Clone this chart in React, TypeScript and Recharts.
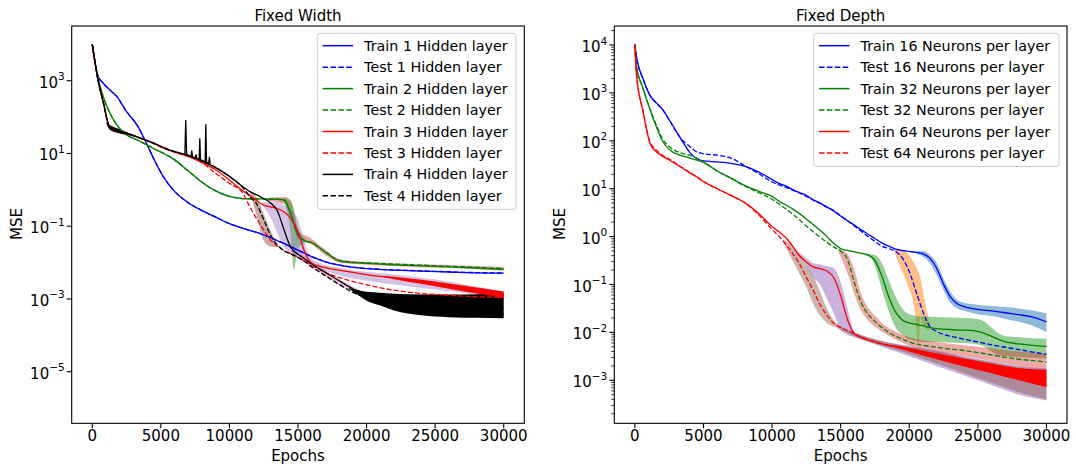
import React from "react"
import { ComposedChart, Line, Area, XAxis, YAxis } from "recharts"

const FONT = '"DejaVu Sans", Verdana, sans-serif'
const epochTicks = [0, 5000, 10000, 15000, 20000, 25000, 30000]

// ---------- Fixed Width (left panel) ----------
const widthEpochs = [0, 400, 800, 1300, 1800, 2500, 3300, 4000, 4500, 5200, 5900, 6900, 8000, 9000, 10000, 11000, 11500, 12000, 12500, 13000, 13500, 14000, 14500, 15000, 15500, 16000, 17000, 18000, 19000, 20000, 22000, 24000, 26000, 28000, 30000]
const train1 = [1.0e4, 1410, 851, 550, 363, 141, 57.5, 17.4, 6.9, 2.24, 1.0, 0.468, 0.269, 0.178, 0.117, 0.0871, 0.0759, 0.0676, 0.0575, 0.049, 0.0398, 0.0331, 0.0269, 0.0219, 0.0178, 0.0145, 0.0105, 0.0085, 0.0074, 0.0068, 0.0062, 0.0058, 0.0055, 0.0052, 0.0051]
const test1 = [1.0e4, 1410, 851, 550, 363, 141, 57.5, 17.4, 6.9, 2.24, 1.0, 0.468, 0.269, 0.178, 0.117, 0.0871, 0.0759, 0.0676, 0.0575, 0.049, 0.0398, 0.0331, 0.0269, 0.0219, 0.0178, 0.0145, 0.0105, 0.0086, 0.0075, 0.0069, 0.0063, 0.0059, 0.0056, 0.0053, 0.0052]
const train2 = [1.0e4, 1320, 363, 126, 60.3, 32.4, 23.4, 17.0, 13.5, 10.0, 7.08, 3.55, 1.62, 0.933, 0.661, 0.575, 0.562, 0.562, 0.562, 0.55, 0.55, 0.525, 0.209, 0.0562, 0.0398, 0.0355, 0.0191, 0.0112, 0.01, 0.00955, 0.00871, 0.00813, 0.00759, 0.00708, 0.00646]
const test2 = [1.0e4, 1320, 363, 126, 60.3, 32.4, 23.4, 17.0, 13.5, 10.0, 7.08, 3.55, 1.62, 0.933, 0.661, 0.575, 0.562, 0.562, 0.562, 0.55, 0.55, 0.51, 0.2, 0.0562, 0.0398, 0.0355, 0.0195, 0.0115, 0.0103, 0.0098, 0.0091, 0.0085, 0.0079, 0.0074, 0.0068]
const train3 = [1.0e4, 1120, 257, 49, 41.7, 35.5, 28.2, 22.4, 18.6, 14.1, 11.2, 8.51, 5.62, 3.55, 1.86, 0.933, 0.692, 0.501, 0.38, 0.339, 0.302, 0.245, 0.158, 0.0708, 0.0191, 0.00955, 0.00724, 0.00617, 0.00537, 0.00468, 0.0038, 0.00302, 0.00234, 0.00174, 0.00129]
const test3 = [1.0e4, 1120, 257, 49, 41.7, 35.5, 28.2, 22.4, 18.6, 14.1, 11.2, 8.51, 5.62, 2.82, 1.51, 0.794, 0.331, 0.158, 0.0776, 0.0417, 0.0282, 0.0214, 0.0174, 0.0138, 0.0112, 0.0085, 0.00525, 0.00389, 0.00302, 0.00245, 0.00174, 0.00141, 0.00126, 0.00115, 0.0011]
const train4 = [1.0e4, 1120, 257, 49, 41.7, 35.5, 28.2, 22.4, 19.1, 14.5, 11.5, 9.12, 6.17, 4.07, 2.34, 1.2, 0.891, 0.724, 0.575, 0.437, 0.263, 0.0759, 0.0251, 0.017, 0.0126, 0.00912, 0.00537, 0.00316, 0.00191, 0.00132, 0.00089, 0.000708, 0.000631, 0.000603, 0.000562]
const test4 = [1.0e4, 1120, 257, 49, 41.7, 35.5, 28.2, 22.4, 19.1, 14.5, 11.5, 9.12, 6.17, 4.07, 2.34, 1.12, 0.646, 0.398, 0.151, 0.0562, 0.0302, 0.0209, 0.017, 0.0138, 0.0105, 0.00759, 0.00437, 0.00251, 0.00151, 0.00107, 0.000708, 0.000501, 0.000437, 0.000398, 0.00038]

// spikes of the 4-layer training curve
const spikeEpochs = [6750, 6815, 6880, 7200, 7255, 7310, 7520, 7570, 7620, 7790, 7840, 7890, 8230, 8277, 8330, 8490, 8540, 8590]
const spikeValues = [9.2, 83, 9.1, 8.1, 12, 8.0, 7.5, 9.5, 7.3, 6.9, 26, 6.8, 5.9, 63, 5.8, 5.3, 8.1, 5.2]

// shaded spread bands, left panel
const bandTest3Epochs = [11500, 12000, 12500, 13000, 13450]
const bandTest3Lo = [0.832, 0.186, 0.0398, 0.0275, 0.0263]
const bandTest3Hi = [0.891, 0.617, 0.219, 0.0759, 0.0302]
const bandTrain3Epochs = [12400, 12970, 13940, 14915, 15650, 16200, 18000, 20000, 22000, 24000, 26000, 28000, 30000]
const bandTrain3Lo = [0.38, 0.182, 0.0275, 0.0145, 0.00955, 0.00794, 0.00447, 0.00316, 0.00251, 0.002, 0.00166, 0.00132, 0.00105]
const bandTrain3Hi = [0.44, 0.468, 0.38, 0.182, 0.0224, 0.0112, 0.00708, 0.00562, 0.00468, 0.0038, 0.00302, 0.00219, 0.00158]
const bandTrain2Epochs = [14000, 14400, 14700, 15000, 15500]
const bandTrain2Lo = [0.479, 0.1, 0.0063, 0.0251, 0.0331]
const bandTrain2Hi = [0.603, 0.501, 0.282, 0.0891, 0.0468]
const bandTest2Epochs = [12800, 14000, 14500, 15000, 16000, 17000, 18000, 20000, 22000, 26000, 30000]
const bandTest2Lo = [0.501, 0.398, 0.158, 0.0447, 0.0316, 0.0158, 0.01, 0.00871, 0.00794, 0.00708, 0.00603]
const bandTest2Hi = [0.603, 0.631, 0.501, 0.0794, 0.0447, 0.0224, 0.0126, 0.0105, 0.00955, 0.00851, 0.00759]
const bandTrain4Epochs = [14500, 15500, 16500, 17500, 18500, 19500]
const bandTrain4Lo = [0.02, 0.01, 0.00562, 0.00316, 0.00191, 0.00132]
const bandTrain4Hi = [0.0316, 0.0151, 0.00832, 0.00479, 0.00282, 0.00178]

// noisy stretches, left panel
const noiseEarlyEpochs = [1000, 1300, 1800, 2500, 3100]
const noiseEarlyLo = [70, 44, 37, 32, 29]
const noiseEarlyHi = [72, 60, 49, 39, 31]
const noiseBlackEpochs = [18700, 19500, 20000, 21000, 22000, 24000, 26000, 28000, 30000]
const noiseBlackLo = [1.9e-3, 1.2e-3, 8.9e-4, 6.6e-4, 4.8e-4, 3.55e-4, 3.16e-4, 3.02e-4, 2.95e-4]
const noiseBlackHi = [2.0e-3, 1.7e-3, 1.58e-3, 1.48e-3, 1.38e-3, 1.32e-3, 1.32e-3, 1.35e-3, 1.45e-3]
const noiseRedEpochs = [21000, 22000, 24000, 26000, 28000, 30000]
const noiseRedLo = [4.2e-3, 3.5e-3, 2.6e-3, 1.9e-3, 1.4e-3, 1.05e-3]
const noiseRedHi = [4.3e-3, 4.1e-3, 3.35e-3, 2.65e-3, 2.05e-3, 1.6e-3]

// ---------- Fixed Depth (right panel) ----------
const depthEpochs = [0, 100, 600, 1100, 1600, 2000, 2500, 3300, 4000, 4500, 5000, 6000, 7000, 8000, 9000, 10000, 10500, 11000, 11500, 12000, 12500, 13000, 13500, 14000, 14500, 15000, 15500, 16000, 16500, 17000, 17500, 18000, 18500, 19000, 19500, 20000, 20500, 21000, 21500, 22000, 22500, 23000, 23500, 24000, 25000, 26000, 27000, 28000, 29000, 30000]
const train16 = [1.02e4, 6170, 1950, 891, 603, 457, 275, 117, 57.5, 42.7, 38, 36.3, 33.9, 29.5, 22.4, 15.5, 12.9, 11.5, 9.55, 8.32, 7.24, 5.89, 5.01, 4.17, 3.39, 2.69, 2.14, 1.74, 1.38, 1.12, 0.912, 0.741, 0.631, 0.55, 0.513, 0.49, 0.468, 0.437, 0.355, 0.219, 0.102, 0.055, 0.0398, 0.0347, 0.0302, 0.0282, 0.0257, 0.0234, 0.0209, 0.0166]
const test16 = [1.02e4, 6170, 1950, 891, 603, 457, 275, 117, 75.9, 58.9, 53.7, 50.1, 43.7, 30.2, 20.9, 13.8, 12.0, 10.7, 9.33, 8.13, 6.92, 5.75, 4.9, 4.07, 3.55, 2.69, 2.14, 1.66, 1.29, 1.0, 0.794, 0.631, 0.562, 0.49, 0.355, 0.186, 0.0708, 0.0269, 0.0132, 0.0105, 0.00912, 0.00832, 0.00776, 0.00724, 0.00631, 0.0055, 0.0049, 0.00437, 0.00389, 0.00347]
const train32 = [1.02e4, 3800, 1230, 457, 186, 100, 66.1, 50.1, 43.7, 39.8, 35.5, 23.4, 16.6, 11.7, 8.91, 6.92, 5.5, 4.57, 3.8, 3.02, 2.34, 1.78, 1.35, 1.0, 0.724, 0.562, 0.513, 0.479, 0.447, 0.417, 0.316, 0.151, 0.0562, 0.0269, 0.0182, 0.0158, 0.0148, 0.0138, 0.0126, 0.012, 0.0117, 0.0115, 0.0112, 0.0112, 0.0105, 0.0083, 0.00631, 0.00575, 0.00537, 0.00513]
const test32 = [1.02e4, 3800, 1230, 457, 200, 112, 75.9, 56.2, 50.1, 43.7, 36.3, 23.4, 16.6, 11.5, 8.32, 6.03, 4.79, 3.8, 2.95, 2.24, 1.66, 1.26, 0.977, 0.759, 0.603, 0.501, 0.331, 0.11, 0.0417, 0.024, 0.017, 0.0126, 0.01, 0.00832, 0.00724, 0.00631, 0.00575, 0.00537, 0.00513, 0.0049, 0.00468, 0.00447, 0.00437, 0.00417, 0.0038, 0.00339, 0.00302, 0.00275, 0.00257, 0.0024]
const train64 = [1.02e4, 2750, 398, 89.1, 57.5, 47.9, 39.8, 28.8, 21.4, 17.8, 14.1, 10, 7.24, 5.13, 3.09, 1.62, 1.26, 0.955, 0.631, 0.398, 0.295, 0.234, 0.214, 0.191, 0.138, 0.0589, 0.0186, 0.00933, 0.00776, 0.00692, 0.00631, 0.00575, 0.00537, 0.00501, 0.00479, 0.00447, 0.00417, 0.00389, 0.00355, 0.00324, 0.00302, 0.00282, 0.00263, 0.00245, 0.00219, 0.00191, 0.00166, 0.00148, 0.00132, 0.00117]
const test64 = [1.02e4, 2750, 417, 95.5, 63.1, 50.1, 41.7, 29.5, 21.9, 17.8, 14.1, 10, 7.24, 5.13, 2.88, 1.41, 1.02, 0.692, 0.447, 0.269, 0.141, 0.0759, 0.038, 0.0229, 0.0155, 0.0126, 0.011, 0.00933, 0.00794, 0.00708, 0.00631, 0.00575, 0.00537, 0.00501, 0.00479, 0.00447, 0.00417, 0.00389, 0.00355, 0.00324, 0.00302, 0.00282, 0.00263, 0.00245, 0.00219, 0.00191, 0.00166, 0.00148, 0.00132, 0.00117]

// shaded spread bands, right panel
const bandTrain16Epochs = [20500, 21000, 21500, 22000, 22500, 23000, 23500, 24000, 25000, 26000, 27000, 28000, 29000, 30000]
const bandTrain16Lo = [0.437, 0.38, 0.282, 0.158, 0.0759, 0.0417, 0.0316, 0.0282, 0.024, 0.0219, 0.0191, 0.0166, 0.0138, 0.0102]
const bandTrain16Hi = [0.49, 0.501, 0.417, 0.282, 0.132, 0.0708, 0.0479, 0.0417, 0.038, 0.0355, 0.0339, 0.0316, 0.0288, 0.0251]
const bandTest16Epochs = [18900, 19335, 19800, 20430, 20680, 20800, 21100, 21530]
const bandTest16Lo = [0.501, 0.234, 0.112, 0.0251, 0.00537, 0.02, 0.0126, 0.0112]
const bandTest16Hi = [0.525, 0.513, 0.468, 0.251, 0.178, 0.145, 0.0501, 0.0141]
const bandTrain32Epochs = [16800, 17200, 17600, 18000, 18500, 19000, 19500, 20000, 21000, 22000, 23000, 24000, 25000, 25500, 26000, 26500, 27000, 28000, 29000, 30000]
const bandTrain32Lo = [0.398, 0.355, 0.2, 0.0794, 0.0282, 0.0126, 0.00891, 0.00708, 0.00631, 0.00631, 0.00617, 0.00603, 0.00562, 0.00501, 0.00398, 0.00339, 0.00316, 0.00302, 0.00295, 0.00282]
const bandTrain32Hi = [0.437, 0.427, 0.398, 0.282, 0.126, 0.0562, 0.0316, 0.024, 0.0214, 0.0209, 0.0204, 0.02, 0.0191, 0.0166, 0.0126, 0.00955, 0.00832, 0.00794, 0.00759, 0.00741]
const bandTest32Epochs = [14800, 15200, 15600, 16000, 16500, 17000, 17500, 18000, 19000, 20000, 22000, 24000, 26000, 28000, 30000]
const bandTest32Lo = [0.501, 0.282, 0.141, 0.0631, 0.0282, 0.0178, 0.0132, 0.0105, 0.00708, 0.00525, 0.0038, 0.00316, 0.00251, 0.002, 0.00158]
const bandTest32Hi = [0.55, 0.501, 0.398, 0.2, 0.0631, 0.0331, 0.0224, 0.0158, 0.0105, 0.00794, 0.00631, 0.00537, 0.00468, 0.00398, 0.00355]
const bandTrain64Epochs = [11800, 12500, 13000, 13500, 14000, 14500, 15000, 15500, 16000, 17000, 18000, 20000, 22000, 24000, 26000, 28000, 30000]
const bandTrain64Lo = [0.447, 0.251, 0.141, 0.1, 0.0501, 0.0251, 0.0112, 0.00891, 0.00794, 0.00631, 0.00501, 0.00316, 0.002, 0.00126, 0.000794, 0.000501, 0.00038]
const bandTrain64Hi = [0.501, 0.355, 0.282, 0.263, 0.24, 0.219, 0.112, 0.0316, 0.0105, 0.00794, 0.00661, 0.00525, 0.00417, 0.00316, 0.00251, 0.002, 0.00178]
const bandTest64Epochs = [10800, 11500, 12000, 12500, 13000, 13500, 14000, 14500, 15000, 16000, 18000, 20000, 22000, 24000, 26000, 28000, 30000]
const bandTest64Lo = [0.759, 0.316, 0.166, 0.0891, 0.0398, 0.0224, 0.0158, 0.0132, 0.0112, 0.00832, 0.00525, 0.00355, 0.00224, 0.00141, 0.000891, 0.000562, 0.000398]
const bandTest64Hi = [0.891, 0.631, 0.417, 0.251, 0.151, 0.0708, 0.0316, 0.0178, 0.0135, 0.01, 0.00661, 0.00501, 0.00398, 0.00302, 0.0024, 0.00191, 0.00166]

const noiseDepthEpochs = [18500, 20000, 22000, 24000, 26000, 28000, 30000]
const noiseDepthLo = [5.3e-3, 4.0e-3, 2.75e-3, 1.95e-3, 1.4e-3, 1e-3, 7.2e-4]
const noiseDepthHi = [5.5e-3, 4.8e-3, 3.65e-3, 2.85e-3, 2.25e-3, 1.8e-3, 1.66e-3]

// ---------- helpers ----------
type Series = { name: string; values: number[]; color: string; dashed?: boolean }
type Band = { epochs: number[]; lo: number[]; hi: number[]; color: string; opacity: number }

const toRows = (epochs: number[], values: number[]) => epochs.map((epoch, i) => ({ epoch, value: values[i] }))
const toBand = (b: Band) => b.epochs.map((epoch, i) => ({ epoch, range: [b.lo[i], b.hi[i]] }))

const widthSeries: Series[] = [
  { name: "Train 1 Hidden layer", values: train1, color: "#0000ff" },
  { name: "Test 1 Hidden layer", values: test1, color: "#0000ff", dashed: true },
  { name: "Train 2 Hidden layer", values: train2, color: "#008000" },
  { name: "Test 2 Hidden layer", values: test2, color: "#008000", dashed: true },
  { name: "Train 3 Hidden layer", values: train3, color: "#ff0000" },
  { name: "Test 3 Hidden layer", values: test3, color: "#ff0000", dashed: true },
  { name: "Train 4 Hidden layer", values: train4, color: "#000000" },
  { name: "Test 4 Hidden layer", values: test4, color: "#000000", dashed: true },
]
const widthBands: Band[] = [
  { epochs: bandTest2Epochs, lo: bandTest2Lo, hi: bandTest2Hi, color: "#d62728", opacity: 0.45 },
  { epochs: bandTrain2Epochs, lo: bandTrain2Lo, hi: bandTrain2Hi, color: "#2ca02c", opacity: 0.5 },
  { epochs: bandTrain3Epochs, lo: bandTrain3Lo, hi: bandTrain3Hi, color: "#9467bd", opacity: 0.4 },
  { epochs: bandTest3Epochs, lo: bandTest3Lo, hi: bandTest3Hi, color: "#8c564b", opacity: 0.5 },
  { epochs: bandTrain4Epochs, lo: bandTrain4Lo, hi: bandTrain4Hi, color: "#e377c2", opacity: 0.45 },
  { epochs: noiseEarlyEpochs, lo: noiseEarlyLo, hi: noiseEarlyHi, color: "#000000", opacity: 1 },
  { epochs: noiseBlackEpochs, lo: noiseBlackLo, hi: noiseBlackHi, color: "#000000", opacity: 1 },
  { epochs: noiseRedEpochs, lo: noiseRedLo, hi: noiseRedHi, color: "#ff0000", opacity: 1 },
]

const depthSeries: Series[] = [
  { name: "Train 16 Neurons per layer", values: train16, color: "#0000ff" },
  { name: "Test 16 Neurons per layer", values: test16, color: "#0000ff", dashed: true },
  { name: "Train 32 Neurons per layer", values: train32, color: "#008000" },
  { name: "Test 32 Neurons per layer", values: test32, color: "#008000", dashed: true },
  { name: "Train 64 Neurons per layer", values: train64, color: "#ff0000" },
  { name: "Test 64 Neurons per layer", values: test64, color: "#ff0000", dashed: true },
]
const depthBands: Band[] = [
  { epochs: bandTrain16Epochs, lo: bandTrain16Lo, hi: bandTrain16Hi, color: "#1f77b4", opacity: 0.5 },
  { epochs: bandTest16Epochs, lo: bandTest16Lo, hi: bandTest16Hi, color: "#ff7f0e", opacity: 0.5 },
  { epochs: bandTrain32Epochs, lo: bandTrain32Lo, hi: bandTrain32Hi, color: "#2ca02c", opacity: 0.5 },
  { epochs: bandTest32Epochs, lo: bandTest32Lo, hi: bandTest32Hi, color: "#d62728", opacity: 0.4 },
  { epochs: bandTrain64Epochs, lo: bandTrain64Lo, hi: bandTrain64Hi, color: "#9467bd", opacity: 0.5 },
  { epochs: bandTest64Epochs, lo: bandTest64Lo, hi: bandTest64Hi, color: "#8c564b", opacity: 0.45 },
  { epochs: noiseDepthEpochs, lo: noiseDepthLo, hi: noiseDepthHi, color: "#ff0000", opacity: 1 },
]

const minorTicks = [-4, -3, -2, -1, 0, 1, 2, 3, 4].flatMap((e) => [2, 3, 4, 5, 6, 7, 8, 9].map((m) => m * Math.pow(10, e)))

function PowTick(props: any) {
  const { x, y, payload } = props
  const v = payload.value as number
  const exp = Math.round(Math.log10(v))
  const major = Math.abs(v / Math.pow(10, exp) - 1) < 1e-6
  const axisX = x + 7
  return (
    <g>
      <line x1={axisX} x2={axisX - (major ? 5 : 3)} y1={y} y2={y} stroke="#000" strokeWidth={major ? 1.1 : 0.8} />
      {major && (
        <text x={x} y={y + 7} textAnchor="end" fontSize={15} fontFamily={FONT} fill="#000">
          10
          <tspan dy={-7.5} fontSize={10.5}>{exp < 0 ? `\u2212${-exp}` : exp}</tspan>
        </text>
      )}
    </g>
  )
}

type PanelProps = {
  left: number
  width: number
  plotLeft: number
  plotRight: number
  epochs: number[]
  series: Series[]
  bands: Band[]
  yDomain: [number, number]
  yTicks: number[]
  spikes?: boolean
}

function Panel({ left, width, plotLeft, plotRight, epochs, series, bands, yDomain, yTicks, spikes }: PanelProps) {
  return (
    <div style={{ position: "absolute", left, top: 0 }}>
      <ComposedChart
        width={width}
        height={466}
        margin={{ top: 26, right: width - plotRight, bottom: 466 - 423.3 - 30, left: plotLeft - 60 }}
      >
        <XAxis
          type="number"
          dataKey="epoch"
          domain={[-1500, 31500]}
          allowDataOverflow
          ticks={epochTicks}
          interval={0}
          height={30}
          axisLine={false}
          tickSize={5}
          tickMargin={2}
          tickLine={{ stroke: "#000", strokeWidth: 1.1 }}
          tick={{ fontSize: 15, fill: "#000", fontFamily: FONT }}
        />
        <YAxis
          type="number"
          scale="log"
          domain={yDomain}
          allowDataOverflow
          ticks={yTicks}
          interval={0}
          width={60}
          axisLine={false}
          tickLine={false}
          tickSize={5}
          tickMargin={2}
          tick={(p: any) => <PowTick {...p} />}
        />
        {bands.map((b, i) => (
          <Area
            key={"band" + i}
            data={toBand(b)}
            dataKey="range"
            type="monotone"
            stroke="none"
            fill={b.color}
            fillOpacity={b.opacity}
            isAnimationActive={false}
            legendType="none"
          />
        ))}
        {series.map((s) => (
          <Line
            key={s.name}
            name={s.name}
            data={toRows(epochs, s.values)}
            dataKey="value"
            type="monotone"
            stroke={s.color}
            strokeWidth={1.3}
            strokeDasharray={s.dashed ? "5 2.2" : undefined}
            dot={false}
            isAnimationActive={false}
          />
        ))}
        {spikes && (
          <Line
            data={toRows(spikeEpochs, spikeValues)}
            dataKey="value"
            type="linear"
            stroke="#000"
            strokeWidth={1.3}
            dot={false}
            isAnimationActive={false}
            legendType="none"
          />
        )}
      </ComposedChart>
    </div>
  )
}

function LegendBox({ x, y, w, series }: { x: number; y: number; w: number; series: Series[] }) {
  const step = 21.45
  return (
    <g>
      <rect x={x} y={y} width={w} height={series.length * step + 4.5} rx={3} fill="#fff" fillOpacity={0.8} stroke="#cccccc" strokeWidth={1} />
      {series.map((s, i) => {
        const cy = y + 12.4 + i * step
        return (
          <g key={s.name}>
            <line x1={x + 5.3} x2={x + 35.8} y1={cy} y2={cy} stroke={s.color} strokeWidth={1.5} strokeDasharray={s.dashed ? "5.5 2.4" : undefined} />
            <text x={x + 46.8} y={cy + 5} fontSize={14.3} fontFamily={FONT} fill="#000">
              {s.name}
            </text>
          </g>
        )
      })}
    </g>
  )
}

export default function App() {
  return (
    <div style={{ position: "absolute", left: 0, top: 0, width: 1076, height: 466, background: "#fff", fontFamily: FONT }}>
      <Panel
        left={0}
        width={540}
        plotLeft={71.7}
        plotRight={524.3}
        epochs={widthEpochs}
        series={widthSeries}
        bands={widthBands}
        yDomain={[3.81e-7, 3.19e4]}
        yTicks={[1e-5, 1e-3, 1e-1, 1e1, 1e3]}
        spikes
      />
      <Panel
        left={540}
        width={536}
        plotLeft={74.3}
        plotRight={527}
        epochs={depthEpochs}
        series={depthSeries}
        bands={depthBands}
        yDomain={[1.265e-4, 2.495e4]}
        yTicks={[1e-3, 1e-2, 1e-1, 1, 1e1, 1e2, 1e3, 1e4, ...minorTicks.filter((t) => t > 1.265e-4 && t < 2.495e4)]}
      />
      <svg width={1076} height={466} style={{ position: "absolute", left: 0, top: 0, pointerEvents: "none" }}>
        <rect x={71.7} y={26} width={452.6} height={397.3} fill="none" stroke="#000" strokeWidth={1.1} />
        <rect x={614.3} y={26} width={452.7} height={397.3} fill="none" stroke="#000" strokeWidth={1.1} />
        <text x={298} y={21} textAnchor="middle" fontSize={15} fontFamily={FONT} fill="#000">Fixed Width</text>
        <text x={840.7} y={21} textAnchor="middle" fontSize={15} fontFamily={FONT} fill="#000">Fixed Depth</text>
        <text x={298} y={460.5} textAnchor="middle" fontSize={15} fontFamily={FONT} fill="#000">Epochs</text>
        <text x={840.7} y={460.5} textAnchor="middle" fontSize={15} fontFamily={FONT} fill="#000">Epochs</text>
        <text x={21.5} y={224} transform="rotate(-90, 21.5, 224)" textAnchor="middle" fontSize={15} fontFamily={FONT} fill="#000">MSE</text>
        <text x={564.5} y={224} transform="rotate(-90, 564.5, 224)" textAnchor="middle" fontSize={15} fontFamily={FONT} fill="#000">MSE</text>
        <LegendBox x={317.3} y={33.3} w={198.7} series={widthSeries} />
        <LegendBox x={813.7} y={33.3} w={245.4} series={depthSeries} />
      </svg>
    </div>
  )
}
